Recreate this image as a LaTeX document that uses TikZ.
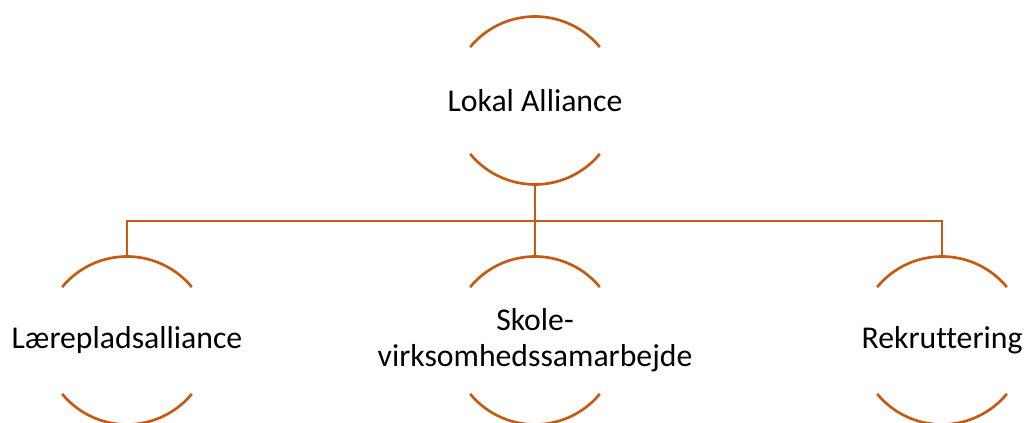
\documentclass[tikz,border=0pt]{standalone}
\usepackage{fontspec}
\setmainfont{Carlito}[Ligatures=NoCommon]
\usetikzlibrary{calc}
\definecolor{accent}{RGB}{197,90,17}
\tikzset{
  arcline/.style={draw=accent, line width=2pt},
  conn/.style={draw=accent, line width=2pt},
  label/.style={font=\fontsize{23.8}{27}\selectfont, align=center, inner sep=0pt, text=black}
}
\begin{document}
\begin{tikzpicture}[x=0.75pt,y=0.75pt]
\useasboundingbox (0,0) rectangle (1027,423);
% circle centres
\coordinate (ctop) at (535,322.5);
\coordinate (cl) at (127,82.5);
\coordinate (cm) at (535,82.5);
\coordinate (cr) at (942,82.5);
% arcs
\foreach \c in {ctop,cl,cm,cr}{
  \draw[arcline] ($(\c)+(39.5:84)$) arc[start angle=39.5, end angle=140.5, radius=63pt];
  \draw[arcline] ($(\c)+(-39.5:84)$) arc[start angle=-39.5, end angle=-140.5, radius=63pt];
}
% labels
\node[label] (top) at (ctop) {Lokal Alliance};
\node[label] (left) at (cl) {Lærepladsalliance};
\node[label] (mid) at (cm) {Skole-\\virksomhedssamarbejde};
\node[label] (right) at (cr) {Rekruttering};
% connector points
\coordinate (topb) at ($(ctop)+(0,-84)$);
\coordinate (bus) at (535,202);
\coordinate (lt) at ($(cl)+(0,84)$);
\coordinate (mt) at ($(cm)+(0,84)$);
\coordinate (rt) at ($(cr)+(0,84)$);
\draw[conn] (topb) -- (mt);
\draw[conn] (bus) -| (lt);
\draw[conn] (bus) -| (rt);
\end{tikzpicture}
\end{document}
